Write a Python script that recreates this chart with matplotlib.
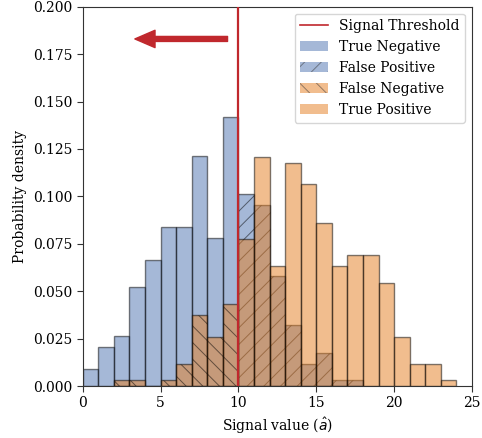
import numpy as np
import matplotlib
matplotlib.use("Agg")
import matplotlib.pyplot as plt
from matplotlib.patches import Patch
from matplotlib.lines import Line2D

plt.rcParams['font.family'] = ['DejaVu Serif']
plt.rcParams['font.size'] = 10
plt.rcParams['hatch.linewidth'] = 0.7

# Bin left edges (bin width 1)
tn_left = [0, 1, 2, 3, 4, 5, 6, 7, 8, 9]
tn_vals = [0.0088, 0.0204, 0.0262, 0.0520, 0.0664, 0.0840, 0.0840, 0.1214, 0.0782, 0.1417]

fp_left = [10, 11, 12, 13, 14, 15, 16, 17]
fp_vals = [0.1012, 0.0954, 0.0580, 0.0320, 0.0116, 0.0176, 0.0032, 0.0032]

fn_left = [2, 3, 4, 5, 6, 7, 8, 9]
fn_vals = [0.0032, 0.0032, 0.0, 0.0032, 0.0114, 0.0374, 0.0258, 0.0432]

tp_left = [10, 11, 12, 13, 14, 15, 16, 17, 18, 19, 20, 21, 22, 23]
tp_vals = [0.0775, 0.1206, 0.0631, 0.1176, 0.1063, 0.0861, 0.0631, 0.0689,
           0.0689, 0.0545, 0.0258, 0.0116, 0.0116, 0.0032]

threshold = 10

blue = (76/255, 114/255, 176/255)
orange = (229/255, 125/255, 31/255)
red = '#C0282D'

fig = plt.figure(figsize=(4.82, 4.38), dpi=100)
ax = fig.add_axes([0.1716, 0.1187, 0.8077, 0.866])

ax.axvline(threshold, color=red, lw=1.6, zorder=5)
ax.bar(tn_left, tn_vals, width=1, align='edge', color=blue, edgecolor='k',
       alpha=0.5, lw=1)
ax.bar(fp_left, fp_vals, width=1, align='edge', color=blue, edgecolor='k',
       alpha=0.5, lw=1, hatch='//')
ax.bar(fn_left, fn_vals, width=1, align='edge', color=orange, edgecolor='k',
       alpha=0.5, lw=1, hatch='\\\\')
ax.bar(tp_left, tp_vals, width=1, align='edge', color=orange, edgecolor='k',
       alpha=0.5, lw=1)

ax.annotate('', xy=(3.35, 0.183), xytext=(9.3, 0.183),
            arrowprops=dict(facecolor=red, edgecolor=red, width=3.6,
                            headwidth=12.5, headlength=14.5, shrink=0))

ax.set_xlim(0, 25)
ax.set_ylim(0, 0.2)
ax.set_xticks([0, 5, 10, 15, 20, 25])
ax.set_yticks(np.arange(0, 0.2001, 0.025))
ax.set_yticklabels([f'{v:.3f}' for v in np.arange(0, 0.2001, 0.025)])
ax.set_xlabel(r'Signal value ($\hat{a}$)')
ax.set_ylabel('Probability density')
for s in ax.spines.values():
    s.set_color('#333333')
ax.tick_params(direction='out', length=4, color='#333333')

handles = [
    Line2D([], [], color=red, lw=1.2),
    Patch(facecolor=blue, alpha=0.5, edgecolor='#333333', lw=0),
    Patch(facecolor=blue, alpha=0.5, edgecolor='#333333', lw=0, hatch='//'),
    Patch(facecolor=orange, alpha=0.5, edgecolor='#333333', lw=0, hatch='\\\\'),
    Patch(facecolor=orange, alpha=0.5, edgecolor='#333333', lw=0),
]
labels = ['Signal Threshold', 'True Negative', 'False Positive',
          'False Negative', 'True Positive']
ax.legend(handles, labels, loc='upper right', fontsize=10, handlelength=2.0)

fig.savefig('out.png', dpi=100)
